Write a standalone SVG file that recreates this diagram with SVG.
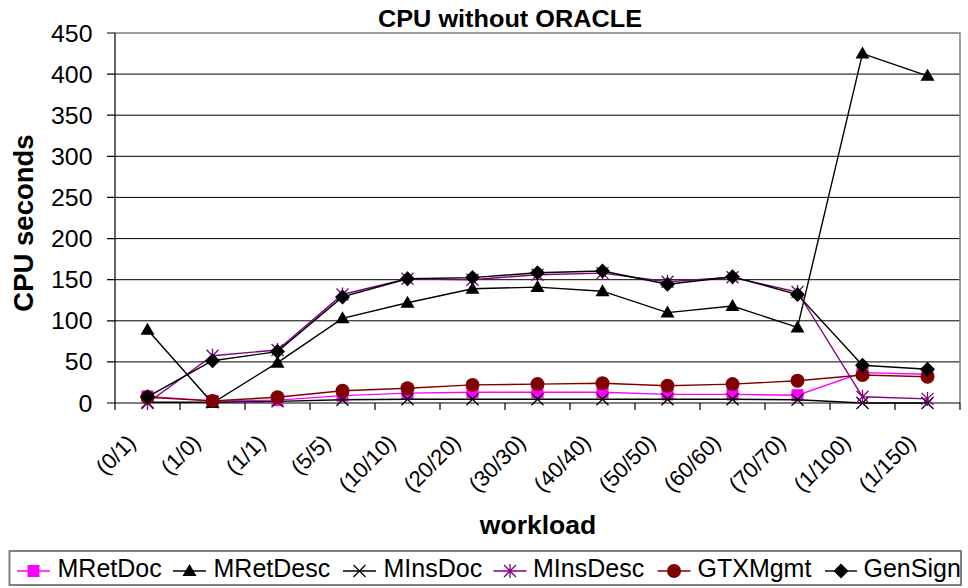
<svg xmlns="http://www.w3.org/2000/svg" width="968" height="588" viewBox="0 0 968 588">
<style>
text{font-family:"Liberation Sans",Arial,sans-serif;fill:#000}
.grid{stroke:#000;stroke-width:1}
.border{stroke:#808080;stroke-width:1.5;fill:none}
.axis{stroke:#000;stroke-width:1.2;fill:none}
.ylab{font-size:23px;text-anchor:end}
.xlab{font-size:22px;text-anchor:end}
.leg{font-size:25px}
.s{fill:none;stroke-width:1.4}
</style>
<defs>
<marker id="m-sq" markerUnits="userSpaceOnUse" viewBox="-10 -10 20 20" refX="0" refY="0" markerWidth="20" markerHeight="20" orient="0" overflow="visible"><rect x="-6" y="-6" width="12" height="12" fill="#FF00FF"/></marker>
<marker id="m-tri" markerUnits="userSpaceOnUse" viewBox="-10 -10 20 20" refX="0" refY="0" markerWidth="20" markerHeight="20" orient="0" overflow="visible"><path d="M0,-7 L7,5 L-7,5Z" fill="#000"/></marker>
<marker id="m-x" markerUnits="userSpaceOnUse" viewBox="-10 -10 20 20" refX="0" refY="0" markerWidth="20" markerHeight="20" orient="0" overflow="visible"><path d="M-6,-6 L6,6 M6,-6 L-6,6" stroke="#000" stroke-width="1.3" fill="none"/></marker>
<marker id="m-ast" markerUnits="userSpaceOnUse" viewBox="-10 -10 20 20" refX="0" refY="0" markerWidth="20" markerHeight="20" orient="0" overflow="visible"><path d="M-6,-6 L6,6 M6,-6 L-6,6 M0,-7 L0,7" stroke="#800080" stroke-width="1.3" fill="none"/></marker>
<marker id="m-circ" markerUnits="userSpaceOnUse" viewBox="-10 -10 20 20" refX="0" refY="0" markerWidth="20" markerHeight="20" orient="0" overflow="visible"><circle r="7" fill="#800000"/></marker>
<marker id="m-dia" markerUnits="userSpaceOnUse" viewBox="-10 -10 20 20" refX="0" refY="0" markerWidth="20" markerHeight="20" orient="0" overflow="visible"><path d="M0,-7.5 L7.5,0 L0,7.5 L-7.5,0Z" fill="#000"/></marker>
</defs>

<rect width="968" height="588" fill="#fff"/>

<text x="378" y="27" font-size="23" font-weight="bold" textLength="264" lengthAdjust="spacingAndGlyphs">CPU without ORACLE</text>

<g id="plot-area">
<rect x="115" y="33" width="845" height="370" fill="#fff"/>
<g id="gridlines">
<line class="grid" x1="115" y1="74.1" x2="960" y2="74.1"/>
<line class="grid" x1="115" y1="115.2" x2="960" y2="115.2"/>
<line class="grid" x1="115" y1="156.3" x2="960" y2="156.3"/>
<line class="grid" x1="115" y1="197.4" x2="960" y2="197.4"/>
<line class="grid" x1="115" y1="238.6" x2="960" y2="238.6"/>
<line class="grid" x1="115" y1="279.7" x2="960" y2="279.7"/>
<line class="grid" x1="115" y1="320.8" x2="960" y2="320.8"/>
<line class="grid" x1="115" y1="361.9" x2="960" y2="361.9"/>
</g>
<path class="border" d="M115,33 H960 V403"/>
</g>

<g id="y-axis">
<path class="axis" d="M115,33 V403"/>
<path class="axis" d="M107,33 H115 M107,74.1 H115 M107,115.2 H115 M107,156.3 H115 M107,197.4 H115 M107,238.6 H115 M107,279.7 H115 M107,320.8 H115 M107,361.9 H115 M107,403 H115"/>
<text class="ylab" x="92.5" y="41.5" textLength="41.5" lengthAdjust="spacingAndGlyphs">450</text>
<text class="ylab" x="92.5" y="82.6" textLength="41.5" lengthAdjust="spacingAndGlyphs">400</text>
<text class="ylab" x="92.5" y="123.7" textLength="41.5" lengthAdjust="spacingAndGlyphs">350</text>
<text class="ylab" x="92.5" y="164.8" textLength="41.5" lengthAdjust="spacingAndGlyphs">300</text>
<text class="ylab" x="92.5" y="205.9" textLength="41.5" lengthAdjust="spacingAndGlyphs">250</text>
<text class="ylab" x="92.5" y="247.1" textLength="41.5" lengthAdjust="spacingAndGlyphs">200</text>
<text class="ylab" x="92.5" y="288.2" textLength="41.5" lengthAdjust="spacingAndGlyphs">150</text>
<text class="ylab" x="92.5" y="329.3" textLength="41.5" lengthAdjust="spacingAndGlyphs">100</text>
<text class="ylab" x="92.5" y="370.4" textLength="27.7" lengthAdjust="spacingAndGlyphs">50</text>
<text class="ylab" x="92.5" y="411.5" textLength="13.9" lengthAdjust="spacingAndGlyphs">0</text>
<text x="33" y="223" font-size="27.5" font-weight="bold" text-anchor="middle" transform="rotate(-90 33 223)">CPU seconds</text>
</g>

<g id="x-axis">
<path class="axis" d="M115,403 H960"/>
<path class="axis" d="M115,403 V410 M180,403 V410 M245,403 V410 M310,403 V410 M375,403 V410 M440,403 V410 M505,403 V410 M570,403 V410 M635,403 V410 M700,403 V410 M765,403 V410 M830,403 V410 M895,403 V410 M960,403 V410"/>
<text class="xlab" transform="translate(137 444) rotate(-45)">(0/1)</text>
<text class="xlab" transform="translate(202 444) rotate(-45)">(1/0)</text>
<text class="xlab" transform="translate(267 444) rotate(-45)">(1/1)</text>
<text class="xlab" transform="translate(332 444) rotate(-45)">(5/5)</text>
<text class="xlab" transform="translate(397 444) rotate(-45)">(10/10)</text>
<text class="xlab" transform="translate(462 444) rotate(-45)">(20/20)</text>
<text class="xlab" transform="translate(527 444) rotate(-45)">(30/30)</text>
<text class="xlab" transform="translate(592 444) rotate(-45)">(40/40)</text>
<text class="xlab" transform="translate(657 444) rotate(-45)">(50/50)</text>
<text class="xlab" transform="translate(722 444) rotate(-45)">(60/60)</text>
<text class="xlab" transform="translate(787 444) rotate(-45)">(70/70)</text>
<text class="xlab" transform="translate(852 444) rotate(-45)">(1/100)</text>
<text class="xlab" transform="translate(917 444) rotate(-45)">(1/150)</text>
<text x="538" y="534" font-size="26.5" font-weight="bold" text-anchor="middle">workload</text>
</g>

<g id="series">
<polyline id="MRetDoc" class="s" stroke="#FF00FF" marker-start="url(#m-sq)" marker-mid="url(#m-sq)" marker-end="url(#m-sq)" points="147.5,396.4 212.5,400.9 277.5,400.1 342.5,395.6 407.5,393.1 472.5,392.3 537.5,392.3 602.5,392.3 667.5,394.4 732.5,394.4 797.5,395.2 862.5,372.6 927.5,374.2"/>
<polyline id="MRetDesc" class="s" stroke="#000" marker-start="url(#m-tri)" marker-mid="url(#m-tri)" marker-end="url(#m-tri)" points="147.5,329.8 212.5,403 277.5,362.7 342.5,318.3 407.5,302.7 472.5,288.7 537.5,287.1 602.5,291.2 667.5,312.6 732.5,306 797.5,327.4 862.5,53.6 927.5,75.8"/>
<polyline id="MInsDoc" class="s" stroke="#000" marker-start="url(#m-x)" marker-mid="url(#m-x)" marker-end="url(#m-x)" points="147.5,402.2 212.5,402.2 277.5,401.4 342.5,399.7 407.5,399.3 472.5,399.3 537.5,399.3 602.5,399.3 667.5,399.3 732.5,399.3 797.5,399.7 862.5,403 927.5,403"/>
<polyline id="MInsDesc" class="s" stroke="#800080" marker-start="url(#m-ast)" marker-mid="url(#m-ast)" marker-end="url(#m-ast)" points="147.5,403 212.5,355.7 277.5,350 342.5,294.5 407.5,278.8 472.5,279.7 537.5,274.7 602.5,273.1 667.5,281.7 732.5,277.2 797.5,292 862.5,396.8 927.5,398.9"/>
<polyline id="GTXMgmt" class="s" stroke="#800000" marker-start="url(#m-circ)" marker-mid="url(#m-circ)" marker-end="url(#m-circ)" points="147.5,397.2 212.5,400.9 277.5,397.2 342.5,390.7 407.5,388.2 472.5,384.9 537.5,384.1 602.5,383.3 667.5,385.7 732.5,384.1 797.5,380.8 862.5,375 927.5,376.7"/>
<polyline id="GenSign" class="s" stroke="#000" marker-start="url(#m-dia)" marker-mid="url(#m-dia)" marker-end="url(#m-dia)" points="147.5,396.8 212.5,360.7 277.5,351.6 342.5,296.9 407.5,278.8 472.5,277.6 537.5,272.7 602.5,271 667.5,284.2 732.5,276.8 797.5,294.5 862.5,365.2 927.5,369.3"/>
</g>

<g id="legend">
<rect x="9.5" y="551" width="951.5" height="34" fill="#fff" stroke="#808080" stroke-width="2"/>
<polyline class="s" stroke="#FF00FF" marker-mid="url(#m-sq)" points="17,571 33.5,571 50,571"/>
<text class="leg" x="57.5" y="577">MRetDoc</text>
<polyline class="s" stroke="#000" marker-mid="url(#m-tri)" points="173,571 189.5,571 206,571"/>
<text class="leg" x="213.5" y="577">MRetDesc</text>
<polyline class="s" stroke="#000" marker-mid="url(#m-x)" points="343,571 359.5,571 376,571"/>
<text class="leg" x="383.5" y="577">MInsDoc</text>
<polyline class="s" stroke="#800080" marker-mid="url(#m-ast)" points="493.5,571 510,571 526.5,571"/>
<text class="leg" x="533" y="577">MInsDesc</text>
<polyline class="s" stroke="#800000" marker-mid="url(#m-circ)" points="657.5,571 674,571 690.5,571"/>
<text class="leg" x="697.5" y="577">GTXMgmt</text>
<polyline class="s" stroke="#000" marker-mid="url(#m-dia)" points="825,571 841,571 857,571"/>
<text class="leg" x="863.5" y="577">GenSign</text>
</g>
</svg>
